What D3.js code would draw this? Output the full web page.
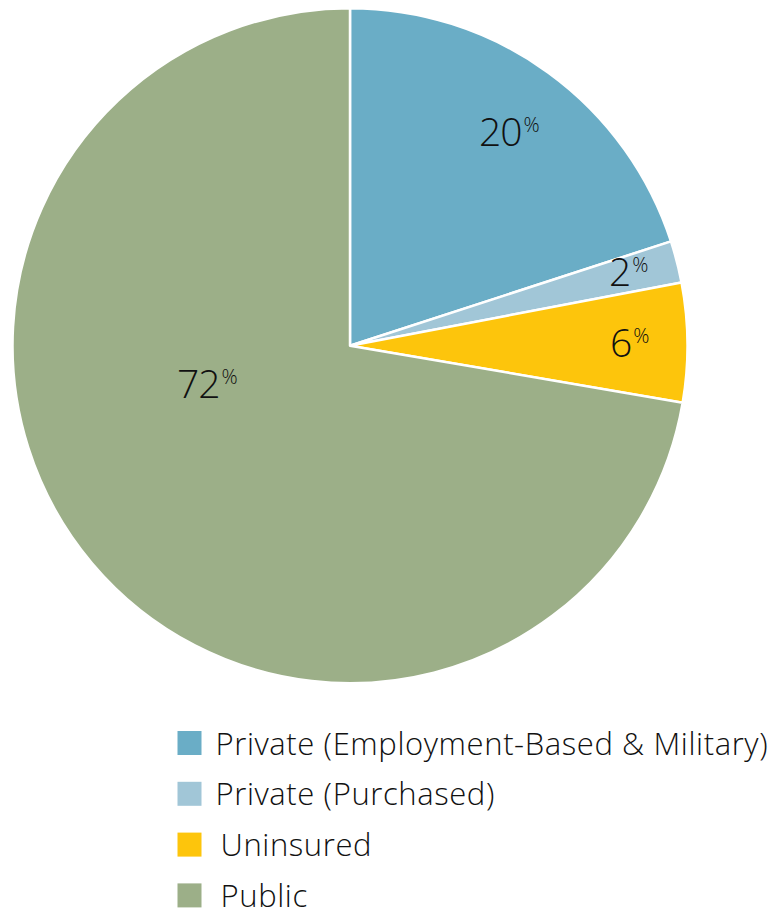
<!DOCTYPE html>
<html><head><meta charset="utf-8">
<script src="https://cdn.jsdelivr.net/npm/d3@7"></script>
<style>body{margin:0;background:#fff}svg{display:block}text{font-family:"Open Sans","Noto Sans",sans-serif;font-weight:300}</style>
</head><body><svg id="c" width="775" height="912"></svg>
<script>
const categories = ["Private (Employment-Based & Military)", "Private (Purchased)", "Uninsured", "Public"];
const values = [20, 2, 5.7, 72.3];
const labels = ["20", "2", "6", "72"];
const colors = ["#6aadc6", "#a1c6d7", "#fdc50c", "#9caf88"];

const svg = d3.select("#c");
const cx = 350, cy = 345.7, R = 337.5;
const data = categories.map((c, i) => ({c, v: values[i], l: labels[i], col: colors[i]}));
const pie = d3.pie().value(d => d.v).sort(null);
const arc = d3.arc().innerRadius(0).outerRadius(R);
const arcs = pie(data);
const g = svg.append("g").attr("transform", `translate(${cx},${cy})`);
g.selectAll("path").data(arcs).join("path")
  .attr("d", arc).attr("fill", d => d.data.col)
  .attr("stroke", "#fff").attr("stroke-width", 2.5).attr("stroke-linejoin", "round");

const labelPos = [[479, 146], [609, 286], [610, 357], [177, 398]];
const lt = g.selectAll("text.lab").data(arcs).join("text").attr("class", "lab")
  .attr("x", (d, i) => labelPos[i][0] - cx).attr("y", (d, i) => labelPos[i][1] - cy)
  .attr("fill", "#111").style("font-size", "39px").style("letter-spacing", "-1px");
lt.append("tspan").text(d => d.data.l);
lt.append("tspan").text("%").style("font-size", "20px").attr("dy", -14).attr("dx", 2).style("letter-spacing", "0");

const leg = svg.append("g");
const rows = leg.selectAll("g").data(data).join("g")
  .attr("transform", (d, i) => `translate(177.5,${731 + i * 50.8})`);
rows.append("rect").attr("width", 24).attr("height", 24).attr("fill", d => d.col);
rows.append("text").attr("x", (d, i) => i < 2 ? 38 : 43).attr("y", 23.5)
  .attr("fill", "#111").style("font-size", "31px").style("letter-spacing", "0.6px").text(d => d.c);
</script></body></html>
